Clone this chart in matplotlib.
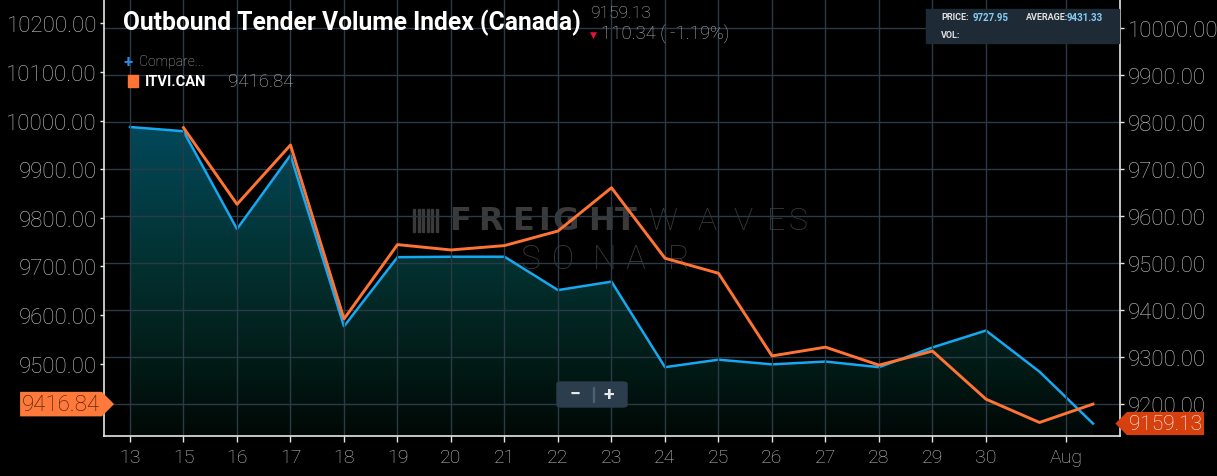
import numpy as np
import matplotlib
matplotlib.use('Agg')
import matplotlib.pyplot as plt
from matplotlib.colors import LinearSegmentedColormap
from matplotlib.patches import Rectangle, FancyBboxPatch
from matplotlib.path import Path

# days on the axis (one point per day, 14 is not in the series)
days = ['13', '15', '16', '17', '18', '19', '20', '21', '22', '23', '24',
        '25', '26', '27', '28', '29', '30', '31', 'Aug 1']
tick_labels = ['13', '15', '16', '17', '18', '19', '20', '21', '22', '23',
               '24', '25', '26', '27', '28', '29', '30', 'Aug']
tick_pos = list(range(17)) + [17.5]

# Outbound Tender Volume Index (Canada) - right axis, blue area
otvi = [9790, 9781, 9573, 9730, 9366, 9513, 9514, 9514, 9443, 9461, 9279,
        9295, 9285, 9291, 9279, 9321, 9357, 9269.47, 9159.13]
# ITVI.CAN - left axis, orange line
itvi_can = [np.nan, 9985.6, 9828, 9950, 9592, 9745, 9734, 9743, 9773, 9862,
            9717, 9686, 9516, 9534, 9497, 9526, 9427, 9379, 9416.84]

left_ticks = [9400, 9500, 9600, 9700, 9800, 9900, 10000, 10100, 10200]
right_ticks = [9200, 9300, 9400, 9500, 9600, 9700, 9800, 9900, 10000]
left_lim = (9351.2, 10250.4)
right_lim = (9132.6, 10062.3)

W, H = 1217, 477
BLUE = '#14a9f2'
ORANGE = '#ff7433'
GRID = '#2a3a47'
SPINE = '#e6e6e6'
LABEL = '#c4c4c4'
MARK = '#3a3a3a'

plt.rcParams['font.family'] = ['Roboto', 'DejaVu Sans']
plt.rcParams['font.weight'] = 'light'

fig = plt.figure(figsize=(W / 100, H / 100), dpi=100, facecolor='black')
ax = fig.add_axes([104 / W, 40 / H, (1120 - 104) / W, 437 / H])
ax.set_facecolor('black')
ax2 = ax.twinx()
ax.set_zorder(ax2.get_zorder() + 1)
ax.patch.set_visible(False)

x = np.arange(len(days))

# gradient area under the blue series
cmap = LinearSegmentedColormap.from_list(
    'sonar', [(0, '#010806'), (0.22, '#021a15'), (0.54, '#03302f'), (1, '#02485a')])
poly = ax2.fill_between(x, otvi, right_lim[0], facecolor='none', edgecolor='none')
grad = np.linspace(1, 0, 256).reshape(-1, 1)
img = ax2.imshow(grad, extent=[x[0], x[-1], right_lim[0], max(otvi)],
                 aspect='auto', cmap=cmap, origin='upper', zorder=0.5)
img.set_clip_path(poly.get_paths()[0], transform=ax2.transData)

ax2.plot(x, otvi, color=BLUE, lw=1.8, zorder=3)
ax.plot(x, itvi_can, color=ORANGE, lw=2.1, zorder=3)

ax.set_xlim(-0.486, 18.505)
ax.set_ylim(*left_lim)
ax2.set_ylim(*right_lim)

ax.set_xticks(tick_pos)
ax.set_xticklabels(tick_labels)
ax.set_yticks(left_ticks)
# the lowest left label sits under the price tag and is not shown
ax.set_yticklabels([''] + [f'{v:.2f}' for v in left_ticks[1:]])
ax2.set_yticks(right_ticks)
ax2.set_yticklabels([f'{v:.2f}' for v in right_ticks])

ax.grid(axis='x', color=GRID, lw=1.0)
ax2.grid(axis='y', color=GRID, lw=1.0)
ax.grid(axis='y', visible=False)

for a in (ax, ax2):
    for s in a.spines.values():
        s.set_visible(False)
ax.spines['left'].set_visible(True)
ax.spines['bottom'].set_visible(True)
ax2.spines['right'].set_visible(True)
for s in (ax.spines['left'], ax.spines['bottom'], ax2.spines['right']):
    s.set_color(SPINE)
    s.set_linewidth(1.2)

ax.tick_params(axis='x', colors=SPINE, labelcolor=LABEL, length=4.5, width=1,
               labelsize=14, pad=4)
ax.tick_params(axis='y', colors=SPINE, labelcolor=LABEL, length=3, width=1,
               labelsize=16, pad=2)
ax2.tick_params(axis='y', colors=SPINE, labelcolor=LABEL, length=3, width=1,
                labelsize=16, pad=3)


# price tags on both axes
def tag_right(x0, y0, width, height, mutation_size):
    pad = 0.08 * mutation_size
    x0, y0 = x0 - pad, y0 - pad
    x1, y1 = x0 + width + 2 * pad, y0 + height + 2 * pad
    tip = (y1 - y0) / 2
    return Path([(x0, y0), (x1, y0), (x1 + tip, (y0 + y1) / 2), (x1, y1),
                 (x0, y1), (x0, y0)], closed=True)


def tag_left(x0, y0, width, height, mutation_size):
    pad = 0.1 * mutation_size
    x0, y0 = x0 - pad, y0 - pad
    x1, y1 = x0 + width + 2 * pad, y0 + height + 2 * pad
    tip = (y1 - y0) / 2
    return Path([(x0, y0), (x1, y0), (x1, y1), (x0, y1),
                 (x0 - tip, (y0 + y1) / 2), (x0, y0)], closed=True)


ax.annotate(f'{itvi_can[-1]:.2f}', xy=(0, itvi_can[-1]),
            xycoords=('axes fraction', 'data'), xytext=(-4, 0),
            textcoords='offset pixels', ha='right', va='center', fontsize=16,
            color='#3a1a08', annotation_clip=False, zorder=10,
            bbox=dict(boxstyle=tag_right, fc='#ff7a3a', ec='none'))
ax2.annotate(f'{otvi[-1]:.2f}', xy=(1, otvi[-1]),
             xycoords=('axes fraction', 'data'), xytext=(9, 0),
             textcoords='offset pixels', ha='left', va='center', fontsize=15,
             color='white', annotation_clip=False, zorder=10,
             bbox=dict(boxstyle=tag_left, fc='#d63f0e', ec='none'))


def ftext(xp, yp, s, **kw):
    return fig.text(xp / W, 1 - yp / H, s, **kw)


# watermark behind the lines, letter by letter to get its wide spacing
wm = dict(transform=fig.transFigure, color=MARK, va='center', ha='left', zorder=1)
for ch, xp in zip('FREIGHT', [449, 478, 512, 538, 552, 588, 615]):
    ax2.text(xp / W, 1 - 222 / H, ch, fontsize=23, fontweight='bold',
             family='DejaVu Sans', **wm)
for ch, xp in zip('WAVES', [648, 697, 733, 767, 788]):
    ax2.text(xp / W, 1 - 222 / H, ch, fontsize=23, fontweight='light', **wm)
for ch, xp in zip('SONAR', [520, 552, 593, 625, 668]):
    ax2.text(xp / W, 1 - 260 / H, ch, fontsize=24, fontweight='light', **wm)
for i in range(6):
    ax2.add_patch(Rectangle(((413 + i * 4.5) / W, 1 - 233 / H), 2 / W, 23 / H,
                            transform=fig.transFigure, color=MARK, zorder=1))

# header
ftext(123, 23, 'Outbound Tender Volume Index (Canada)', fontsize=17.7,
      fontweight='bold', color='white', va='center')
ftext(590, 14, f'{otvi[-1]:.2f}', fontsize=12.5, color='#b4b4b4', va='center')
ftext(590, 35, '\u25bc', fontsize=6.5, color='#e8103c', va='center',
      family=['DejaVu Sans'], fontweight='normal')
ftext(601, 34, '110.34 ( -1.19%)', fontsize=13.3, color='#b4b4b4', va='center')

ftext(123, 62, '+', fontsize=12, fontweight='bold', color='#2a8ee6', va='center')
ftext(139, 62, 'Compare...', fontsize=10, color='#b4b4b4', va='center')
fig.patches.append(Rectangle((128 / W, 1 - 88 / H), 10 / W, 12 / H,
                             transform=fig.transFigure, color=ORANGE))
ftext(145, 82, 'ITVI.CAN', fontsize=10.5, fontweight='bold', color='white', va='center')
ftext(228, 82, f'{itvi_can[-1]:.2f}', fontsize=13.5, color='#b4b4b4', va='center')

# info box top right
fig.patches.append(Rectangle((926 / W, 1 - 44 / H), 193 / W, 34 / H,
                             transform=fig.transFigure, color='#1e2b37', zorder=5))
ftext(941, 18, 'PRICE:', fontsize=6.5, fontweight='bold', color='#e0e0e0',
      va='center', zorder=6)
ftext(973, 18, '9727.95', fontsize=7, fontweight='bold', color='#86ccf2',
      va='center', zorder=6)
ftext(1026, 18, 'AVERAGE:', fontsize=6.5, fontweight='bold', color='#e0e0e0',
      va='center', zorder=6)
ftext(1067, 18, '9431.33', fontsize=7, fontweight='bold', color='#86ccf2',
      va='center', zorder=6)
ftext(941, 36, 'VOL:', fontsize=6.5, fontweight='bold', color='#e0e0e0',
      va='center', zorder=6)

# zoom buttons
fig.patches.append(FancyBboxPatch((557 / W, 1 - 408 / H), 70 / W, 25 / H,
                                  boxstyle='round,pad=0,rounding_size=0.004',
                                  transform=fig.transFigure, color='#2c3d4d',
                                  zorder=5))
fig.patches.append(Rectangle((593 / W, 1 - 403 / H), 1 / W, 15 / H,
                             transform=fig.transFigure, color='#4d5f70', zorder=6))
ftext(575, 395, '\u2212', fontsize=14, fontweight='bold', color='#e8e8e8',
      ha='center', va='center', zorder=7)
ftext(609, 395, '+', fontsize=14, fontweight='bold', color='#e8e8e8',
      ha='center', va='center', zorder=7)

fig.savefig('out.png', dpi=100, facecolor='black')
